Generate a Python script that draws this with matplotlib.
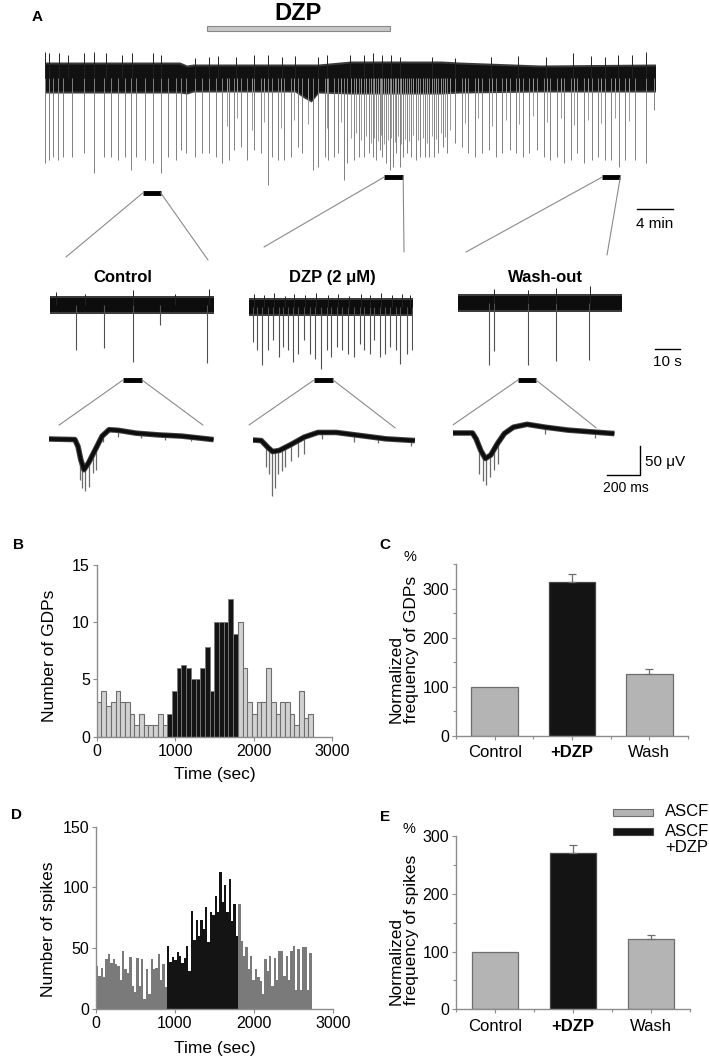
import numpy as np
import matplotlib
matplotlib.use('Agg')
import matplotlib.pyplot as plt
from matplotlib.patches import ConnectionPatch, Rectangle
from matplotlib.ticker import MultipleLocator

plt.rcParams['font.family'] = ['Liberation Sans', 'DejaVu Sans']

# ======================= DATA =======================
# ---- Panel A, overview trace (time in min, amplitude in trace units) ----
top_len_min = 67.8
band_t = [0, 15, 15.8, 16.5, 27.8, 28.8, 29.6, 30.4, 34, 44, 46, 55, 67.8]
band_hi = [14, 14, 11, 12, 12, 12, 12, 12, 15, 15, 14, 11, 12]
band_lo = [-13, -13, -14, -12, -12, -18, -22, -13, -14, -14, -13, -12, -12]
top_spike_t = [0.05, 0.45, 0.96, 1.46, 2.07, 3.08, 4.34, 5.5, 6.6, 7.4, 8.2, 8.9, 9.6, 10.2, 11.1,
               12.0, 12.9, 13.7, 14.6, 15.2, 15.7,
               16.7, 17.5, 18.2, 19.0, 19.7, 20.5, 21.0, 21.8, 22.5, 23.3,
               24.0, 24.8, 25.3, 25.9, 26.6, 27.3, 28.1, 28.6, 29.8, 30.4,
               31.1, 31.5, 32.1, 32.6, 33.2, 33.6, 34.3, 34.9, 35.4, 36.0,
               36.4, 36.8, 37.2, 37.5, 37.9, 38.3, 38.7, 39.0, 39.4, 39.8,
               40.2, 40.7, 41.2, 41.7, 42.2, 42.7, 43.2, 43.7, 44.2, 44.7,
               45.5, 46.3, 47.0, 47.8, 48.5, 49.3, 50.1, 50.8, 51.6, 52.3,
               53.1, 53.8, 54.6, 55.4, 56.1, 56.9, 57.6, 58.4, 59.1, 59.9,
               60.7, 61.4, 62.2, 62.9, 63.8, 64.4, 65.5, 66.7, 67.6]
top_spike_a = [-85, -82, -79, -82, -79, -79, -75, -95, -79, -79, -82, -79, -92, -79, -82,
               -85, -95, -79, -82, -72, -75,
               -79, -75, -75, -79, -85, -82, -72, -69, -82, -72,
               -75, -107, -79, -82, -82, -79, -69, -75, -92, -89,
               -79, -82, -79, -75, -102, -85, -82, -79, -79, -75,
               -79, -82, -72, -79, -85, -92, -89, -75, -89, -79,
               -75, -79, -82, -79, -79, -79, -79, -75, -69, -75,
               -65, -69, -75, -79, -75, -72, -79, -75, -72, -75,
               -79, -75, -72, -79, -82, -79, -85, -82, -75, -85,
               -82, -79, -82, -82, -89, -82, -82, -85, -32]
top_dense_t = [20.2, 21.4, 23.0, 24.4, 26.2, 27.7, 29.2, 31.3, 32.9,
               34.0, 34.6, 35.1, 35.7, 36.2, 36.6, 37.0, 37.35, 37.7, 38.1, 38.5, 38.85, 39.2,
               39.6, 40.0, 40.45, 40.9, 41.45, 41.95, 42.45, 42.95, 43.45, 43.95, 44.45, 45.0,
               46.7, 48.1, 49.7, 51.2, 52.7, 54.2, 55.8, 57.3, 58.8, 60.3, 61.8, 63.3, 64.9]
top_dense_a = [-48, -40, -52, -44, -50, -42, -46, -50, -44,
               -60, -55, -62, -58, -65, -60, -63, -57, -66, -62, -60, -64, -58,
               -66, -61, -63, -57, -62, -60, -65, -58, -61, -55, -59, -52,
               -45, -40, -48, -42, -46, -38, -44, -40, -47, -42, -45, -40, -43]
top_up_t = [0.05, 0.45, 1.57, 2.58, 4.34, 5.5, 6.87, 8.64, 9.75, 12.07, 12.93, 16.72, 18.23,
            19.24, 21.26, 23.28, 24.8, 26.31, 27.83, 30.35, 31.36, 33.89, 35.4, 36.41, 37.42,
            38.43, 39.44, 42.98, 45.5, 49.55, 52.58, 55.61, 58.64, 60.66, 62.17, 63.69, 65.2, 66.72]
top_up_a = [26, 25, 25, 23, 25, 26, 25, 23, 25, 25, 23, 20, 21,
            22, 21, 23, 23, 21, 22, 21, 23, 23, 23, 25, 23,
            23, 21, 21, 20, 21, 22, 21, 25, 22, 21, 23, 23, 26]
dzp_application_min = (18.0, 38.3)
window_ctrl_min = (10.9, 12.9)
window_dzp_min = (37.7, 39.8)
window_wash_min = (61.9, 63.9)

# ---- Panel A, 1-min traces (time in s, amplitude in trace units) ----
seg_len_s = 65.6
ctrl_t = [10.4, 21.5, 33.1, 44.0, 62.7]
ctrl_a = [-45, -43, -57, -20, -58]
ctrl_up_t = [2.3, 14.0, 33.1, 50.0, 63.5]
ctrl_up_a = [13, 11, 15, 11, 16]
dzp_t = [1.5, 3.3, 5.1, 7.5, 9.6, 11.8, 13.6, 15.5, 17.6, 19.6, 22.0, 24.2, 26.4, 28.9, 31.1, 32.9,
         35.1, 37.3, 39.6, 42.0, 44.2, 46.0, 48.2, 50.0, 52.4, 54.4, 56.4, 58.7, 60.5, 63.3, 65.1]
dzp_a = [-35, -43, -58, -43, -33, -50, -40, -43, -55, -47, -33, -47, -52, -62, -43, -50,
         -40, -43, -47, -50, -37, -43, -47, -33, -50, -47, -40, -43, -57, -47, -43]
dzp_up_t = [2.0, 6.0, 10.0, 14.2, 18.0, 22.4, 26.8, 31.4, 35.5, 40.0, 44.6, 48.5, 52.8, 57.0, 61.0, 64.5]
dzp_up_a = [13, 12, 14, 11, 13, 12, 14, 12, 13, 11, 13, 12, 14, 12, 13, 12]
wash_t = [12.4, 14.2, 27.8, 39.1, 52.4]
wash_a = [-62, -48, -62, -58, -57]
wash_up_t = [14.5, 27.9, 39.3, 52.6]
wash_up_a = [14, 13, 15, 17]
zoom_ctrl_s = (29.2, 36.8)
zoom_dzp_s = (26.0, 33.6)
zoom_wash_s = (24.0, 31.2)

# ---- Panel A, single GDPs (time in ms, amplitude in uV) ----
gdp_ctrl_ms = [0, 157, 176, 193, 212, 240, 281, 322, 364, 419, 529, 666, 804, 997]
gdp_ctrl_uv = [0, -1, -13, -36, -53, -41, -18, 5, 16, 15, 10, 7, 5, -1]
gdp_ctrl_fast_ms = [185, 198, 220, 240, 267, 287, 330, 420, 560, 700, 860]
gdp_ctrl_fast_uv = [-70, -85, -90, -82, -59, -53, -5, 4, 1, -2, -4]
gdp_dzp_ms = [0, 50, 91, 119, 160, 229, 311, 394, 504, 669, 806, 981]
gdp_dzp_uv = [0, -1, -13, -20, -18, -8, 5, 13, 13, 7, 2, -1]
gdp_dzp_fast_ms = [77, 96, 113, 132, 152, 174, 196, 229, 270, 311, 420, 610, 760, 960]
gdp_dzp_fast_uv = [-47, -59, -96, -82, -59, -53, -47, -36, -30, -24, 2, -4, -6, -10]
gdp_wash_ms = [0, 118, 140, 168, 196, 229, 270, 311, 366, 449, 559, 697, 835, 978]
gdp_wash_uv = [0, 0, -10, -30, -44, -38, -18, -1, 10, 15, 10, 5, 2, -1]
gdp_wash_fast_ms = [160, 179, 201, 223, 251, 270, 560, 860]
gdp_wash_fast_uv = [-70, -82, -90, -76, -64, -53, -1, -8]

# ---- Panel B: GDP counts, 60 s bins ----
gdp_bin_s = 60
gdp_counts_pre = [3, 4, 2.7, 3, 4, 3, 3, 2, 1, 2, 1, 1, 1, 2, 1]
gdp_counts_dzp = [2, 4, 6, 6.3, 6, 5, 5, 6, 7.8, 4, 10, 10, 10, 12, 9]
gdp_counts_post = [10, 6, 3, 2, 3, 3, 6, 3, 2, 3, 3, 2, 1, 4, 1.6, 2]

# ---- Panel D: spike counts, 30 s bins ----
spk_bin_s = 30
spk_counts_pre = [35, 27, 34, 26, 41, 45, 38, 41, 37, 35, 24, 48, 33, 30, 43, 19, 14, 42, 19, 41,
                  8, 33, 12, 41, 33, 34, 45, 24, 37, 18]
spk_counts_dzp = [52, 39, 43, 40, 47, 44, 38, 42, 52, 31, 81, 57, 73, 60, 73, 66, 84, 55, 80, 77,
                  93, 80, 113, 88, 102, 80, 107, 72, 86, 60]
spk_counts_post = [86, 56, 44, 51, 33, 44, 24, 33, 26, 23, 12, 41, 31, 44, 19, 42, 24, 48, 48, 27,
                   44, 24, 48, 52, 16, 49, 16, 51, 51, 16, 46]

# ---- Panels C and E ----
conditions = ['Control', '+DZP', 'Wash']
gdp_freq = [100, 314, 126.5]
gdp_freq_err = [0, 16, 9]
spk_freq = [100, 270, 122]
spk_freq_err = [0, 15, 7]
legend_labels = ['ASCF', 'ASCF\n+DZP']

# ======================= FIGURE =======================
W, H = 709, 1056
fig = plt.figure(figsize=(W / 100, H / 100), dpi=100)


def add_ax(x0, y0, x1, y1):
    return fig.add_axes([x0 / W, 1 - y1 / H, (x1 - x0) / W, (y1 - y0) / H])


GRAY_SPK = '#808080'
LIGHT = '#b4b4b4'
DARK = '#141414'
AX_GRAY = '#8c8c8c'

# ---------- A: overview ----------
axT = add_ax(44.5, 40, 655.5, 190)
axT.set_xlim(0, top_len_min)
axT.set_ylim(-112, 38)
axT.axis('off')
axT.vlines(top_dense_t, 0, top_dense_a, color='#9a9a9a', lw=0.7)
axT.vlines(top_spike_t, 0, top_spike_a, color=GRAY_SPK, lw=0.7)
axT.vlines(top_up_t, 0, top_up_a, color='#222', lw=0.7)
axT.fill_between(band_t, np.array(band_lo) - 2, np.array(band_hi) + 2, color='#3a3a3a', lw=0)
axT.fill_between(band_t, band_lo, band_hi, color='#111', lw=0)
axT.add_patch(Rectangle((dzp_application_min[0], 47), dzp_application_min[1] - dzp_application_min[0], 5.5,
                        fc='#c8c8c8', ec='#888', lw=0.8, clip_on=False))
axT.text(sum(dzp_application_min) / 2, 64, 'DZP', ha='center', va='center', fontsize=17,
         fontweight='bold', clip_on=False)
for (a, b), yv in zip([window_ctrl_min, window_dzp_min, window_wash_min], [-115, -99, -99]):
    axT.plot([a, b], [yv, yv], color='k', lw=3.5, solid_capstyle='butt', clip_on=False)
# 4 min scale bar
axT.plot([65.7, 69.7], [-131, -131], color='k', lw=1, clip_on=False)
axT.text(67.7, -139, '4 min', ha='center', va='top', fontsize=11, clip_on=False)

# ---------- A: 1-min segments ----------
seg_specs = [
    (50, 305, ctrl_t, ctrl_a, ctrl_up_t, ctrl_up_a, 'Control', 123),
    (249, 307, dzp_t, dzp_a, dzp_up_t, dzp_up_a, 'DZP (2 \u03bcM)', 332),
    (458, 303, wash_t, wash_a, wash_up_t, wash_up_a, 'Wash-out', 545),
]
seg_axes = []
for x0, c, st, sa, ut, ua, title, tx in seg_specs:
    ax = add_ax(x0, 280, x0 + 164, 380)
    ax.set_xlim(0, seg_len_s)
    ax.set_ylim(-(380 - c), c - 280)
    ax.axis('off')
    ax.vlines(st, 0, sa, color='#505050', lw=0.8)
    ax.vlines(ut, 0, ua, color='#222', lw=0.7)
    ax.fill_between([0, seg_len_s], [-9, -9], [9, 9], color='#3c3c3c', lw=0)
    ax.fill_between([0, seg_len_s], [-7, -7], [7, 7], color='#0d0d0d', lw=0)
    fig.text(tx / W, 1 - 278 / H, title, ha='center', va='center', fontsize=12, fontweight='bold')
    seg_axes.append(ax)

# 10 s scale bar
seg_axes[2].plot([78.8, 88.8], [-46, -46], color='k', lw=1, clip_on=False)
seg_axes[2].text(83.8, -52, '10 s', ha='center', va='top', fontsize=11, clip_on=False)

# connectors overview -> segments
conn1 = [
    (window_ctrl_min, -115, seg_axes[0], (6.4, 48), (63.2, 45)),
    (window_dzp_min, -99, seg_axes[1], (6.0, 60), (62.0, 55)),
    (window_wash_min, -99, seg_axes[2], (3.2, 51), (59.6, 48)),
]
for (a, b), yv, ax2, pL, pR in conn1:
    for xa, pb in [(a, pL), (b, pR)]:
        cp = ConnectionPatch(xyA=(xa, yv), coordsA=axT.transData, xyB=pb, coordsB=ax2.transData,
                             color='#8a8a8a', lw=0.8)
        fig.add_artist(cp)

# ---------- A: single GDPs ----------
gdp_specs = [
    (49, 439, gdp_ctrl_ms, gdp_ctrl_uv, gdp_ctrl_fast_ms, gdp_ctrl_fast_uv),
    (253, 440, gdp_dzp_ms, gdp_dzp_uv, gdp_dzp_fast_ms, gdp_dzp_fast_uv),
    (453, 433, gdp_wash_ms, gdp_wash_uv, gdp_wash_fast_ms, gdp_wash_fast_uv),
]
gdp_axes = []
k = 0.58  # px per uV
for x0, b, ms, uv, fms, fuv in gdp_specs:
    ax = add_ax(x0, 410, x0 + 165, 500)
    ax.set_xlim(0, 1000)
    ax.set_ylim(-(500 - b) / k, (b - 410) / k)
    ax.axis('off')
    base = np.interp(fms, ms, uv)
    ax.vlines(fms, base, fuv, color='#6a6a6a', lw=0.9)
    ax.plot(ms, uv, color='#444', lw=4.0, solid_joinstyle='round', solid_capstyle='butt')
    ax.plot(ms, uv, color='#0d0d0d', lw=2.6, solid_joinstyle='round', solid_capstyle='butt')
    gdp_axes.append(ax)

# connectors segments -> GDPs
conn2 = [
    (zoom_ctrl_s, -75, seg_axes[0], gdp_axes[0], (61, 24), (933, 24)),
    (zoom_dzp_s, -73, seg_axes[1], gdp_axes[1], (-24, 26), (861, 21)),
    (zoom_wash_s, -77, seg_axes[2], gdp_axes[2], (0, 14), (867, 9)),
]
for (a, b), yv, ax1, ax2, pL, pR in conn2:
    ax1.plot([a, b], [yv, yv], color='k', lw=3.5, solid_capstyle='butt', clip_on=False)
    for xa, pb in [(a, pL), (b, pR)]:
        cp = ConnectionPatch(xyA=(xa, yv), coordsA=ax1.transData, xyB=pb, coordsB=ax2.transData,
                             color='#8a8a8a', lw=0.8)
        fig.add_artist(cp)

# 50 uV / 200 ms scale bar
axw = gdp_axes[2]
axw.plot([933, 1133, 1133], [-72, -72, -22], color='k', lw=1, clip_on=False)
axw.text(1164, -50, '50 \u03bcV', ha='left', va='center', fontsize=11, clip_on=False)
axw.text(1048, -82, '200 ms', ha='center', va='top', fontsize=10, clip_on=False)


# ---------- helpers for lower panels ----------
def style_axis(ax):
    for s in ['top', 'right']:
        ax.spines[s].set_visible(False)
    for s in ['left', 'bottom']:
        ax.spines[s].set_color(AX_GRAY)
        ax.spines[s].set_linewidth(1.0)
    ax.tick_params(axis='both', which='both', colors=AX_GRAY, labelcolor='black',
                   labelsize=11.5, length=3, width=0.8, pad=2)
    ax.tick_params(which='minor', length=2)


def hist_bars(ax, counts_list, binw, colors, edges, lws, starts):
    for counts, col, ec, lw, st in zip(counts_list, colors, edges, lws, starts):
        x = st + np.arange(len(counts)) * binw
        ax.bar(x, counts, width=binw, align='edge', color=col, edgecolor=ec, linewidth=lw)


# ---------- B ----------
axB = add_ax(96.7, 565, 332, 736.7)
n1, n2 = len(gdp_counts_pre), len(gdp_counts_dzp)
hist_bars(axB, [gdp_counts_pre, gdp_counts_dzp, gdp_counts_post], gdp_bin_s,
          ['#d2d2d2', DARK, '#d2d2d2'], ['#6e6e6e', '#7a7a7a', '#6e6e6e'], [0.8, 0.6, 0.8],
          [0, n1 * gdp_bin_s, (n1 + n2) * gdp_bin_s])
axB.set_xlim(0, 3000)
axB.set_ylim(0, 15)
axB.set_xticks([0, 1000, 2000, 3000])
axB.set_yticks([0, 5, 10, 15])
style_axis(axB)
axB.set_xlabel('Time (sec)', fontsize=12.5)
axB.set_ylabel('Number of GDPs', fontsize=12.5)
axB.xaxis.set_label_coords(0.5, -0.175)
axB.yaxis.set_label_coords(-0.17, 0.47)

# ---------- D ----------
axD = add_ax(96, 826.7, 333, 1009)
m1, m2 = len(spk_counts_pre), len(spk_counts_dzp)
hist_bars(axD, [spk_counts_pre, spk_counts_dzp, spk_counts_post], spk_bin_s,
          ['#7a7a7a', DARK, '#7a7a7a'], ['#7a7a7a', DARK, '#7a7a7a'], [0.0, 0.0, 0.0],
          [0, m1 * spk_bin_s, (m1 + m2) * spk_bin_s])
axD.set_xlim(0, 3000)
axD.set_ylim(0, 150)
axD.set_xticks([0, 1000, 2000, 3000])
axD.set_yticks([0, 50, 100, 150])
style_axis(axD)
axD.set_xlabel('Time (sec)', fontsize=12.5)
axD.set_ylabel('Number of spikes', fontsize=12.5)
axD.xaxis.set_label_coords(0.5, -0.175)
axD.yaxis.set_label_coords(-0.17, 0.44)


# ---------- C and E ----------
def bar_panel(ax, vals, errs, ymax, ylabel, ylab_y):
    x = np.arange(len(vals))
    ax.bar(x, vals, width=0.6, color=[LIGHT, DARK, LIGHT],
           edgecolor=['#6e6e6e', '#444', '#6e6e6e'], linewidth=0.9)
    idx = [i for i, e in enumerate(errs) if e > 0]
    ax.errorbar(x[idx], np.array(vals)[idx], yerr=[np.zeros(len(idx)), np.array(errs)[idx]],
                fmt='none', ecolor='#6e6e6e', elinewidth=0.9, capsize=3, capthick=0.9)
    ax.set_xlim(-0.5, 2.5)
    ax.set_ylim(0, ymax)
    ax.set_xticks(x)
    ax.set_xticklabels(conditions)
    ax.xaxis.set_minor_locator(MultipleLocator(0.5))
    ax.yaxis.set_major_locator(MultipleLocator(100))
    ax.yaxis.set_minor_locator(MultipleLocator(50))
    style_axis(ax)
    ax.tick_params(axis='x', labelsize=12, pad=4)
    ax.get_xticklabels()[1].set_fontweight('bold')
    ax.set_ylabel(ylabel, fontsize=12.5, multialignment='left', linespacing=1.0)
    ax.yaxis.set_label_coords(-0.16, ylab_y)
    ax.text(-0.2, 1.0, '%', transform=ax.transAxes, ha='center', va='bottom', fontsize=10.5)


axC = add_ax(456, 564, 688, 735.7)
bar_panel(axC, gdp_freq, gdp_freq_err, 350, 'Normalized\nfrequency of GDPs', 0.5)
axE = add_ax(456, 836, 690, 1009.3)
bar_panel(axE, spk_freq, spk_freq_err, 300, 'Normalized\nfrequency of spikes', 0.46)

# legend of E
fig.patches.append(Rectangle((613 / W, 1 - 816 / H), 40 / W, 7 / H, transform=fig.transFigure,
                             fc=LIGHT, ec='#6e6e6e', lw=0.8))
fig.patches.append(Rectangle((613 / W, 1 - 835 / H), 40 / W, 7 / H, transform=fig.transFigure,
                             fc=DARK, ec='#444', lw=0.8))
fig.text(665 / W, 1 - 812 / H, legend_labels[0], ha='left', va='center', fontsize=12)
fig.text(665 / W, 1 - 824 / H, legend_labels[1], ha='left', va='top', fontsize=12,
         linespacing=1.05)

# panel letters
for lab, (px, py) in {'A': (37, 17), 'B': (18, 545), 'C': (385, 545),
                      'D': (17, 815), 'E': (385, 817)}.items():
    fig.text(px / W, 1 - py / H, lab, ha='center', va='center', fontsize=11, fontweight='bold')

fig.savefig('out.png', dpi=100)
